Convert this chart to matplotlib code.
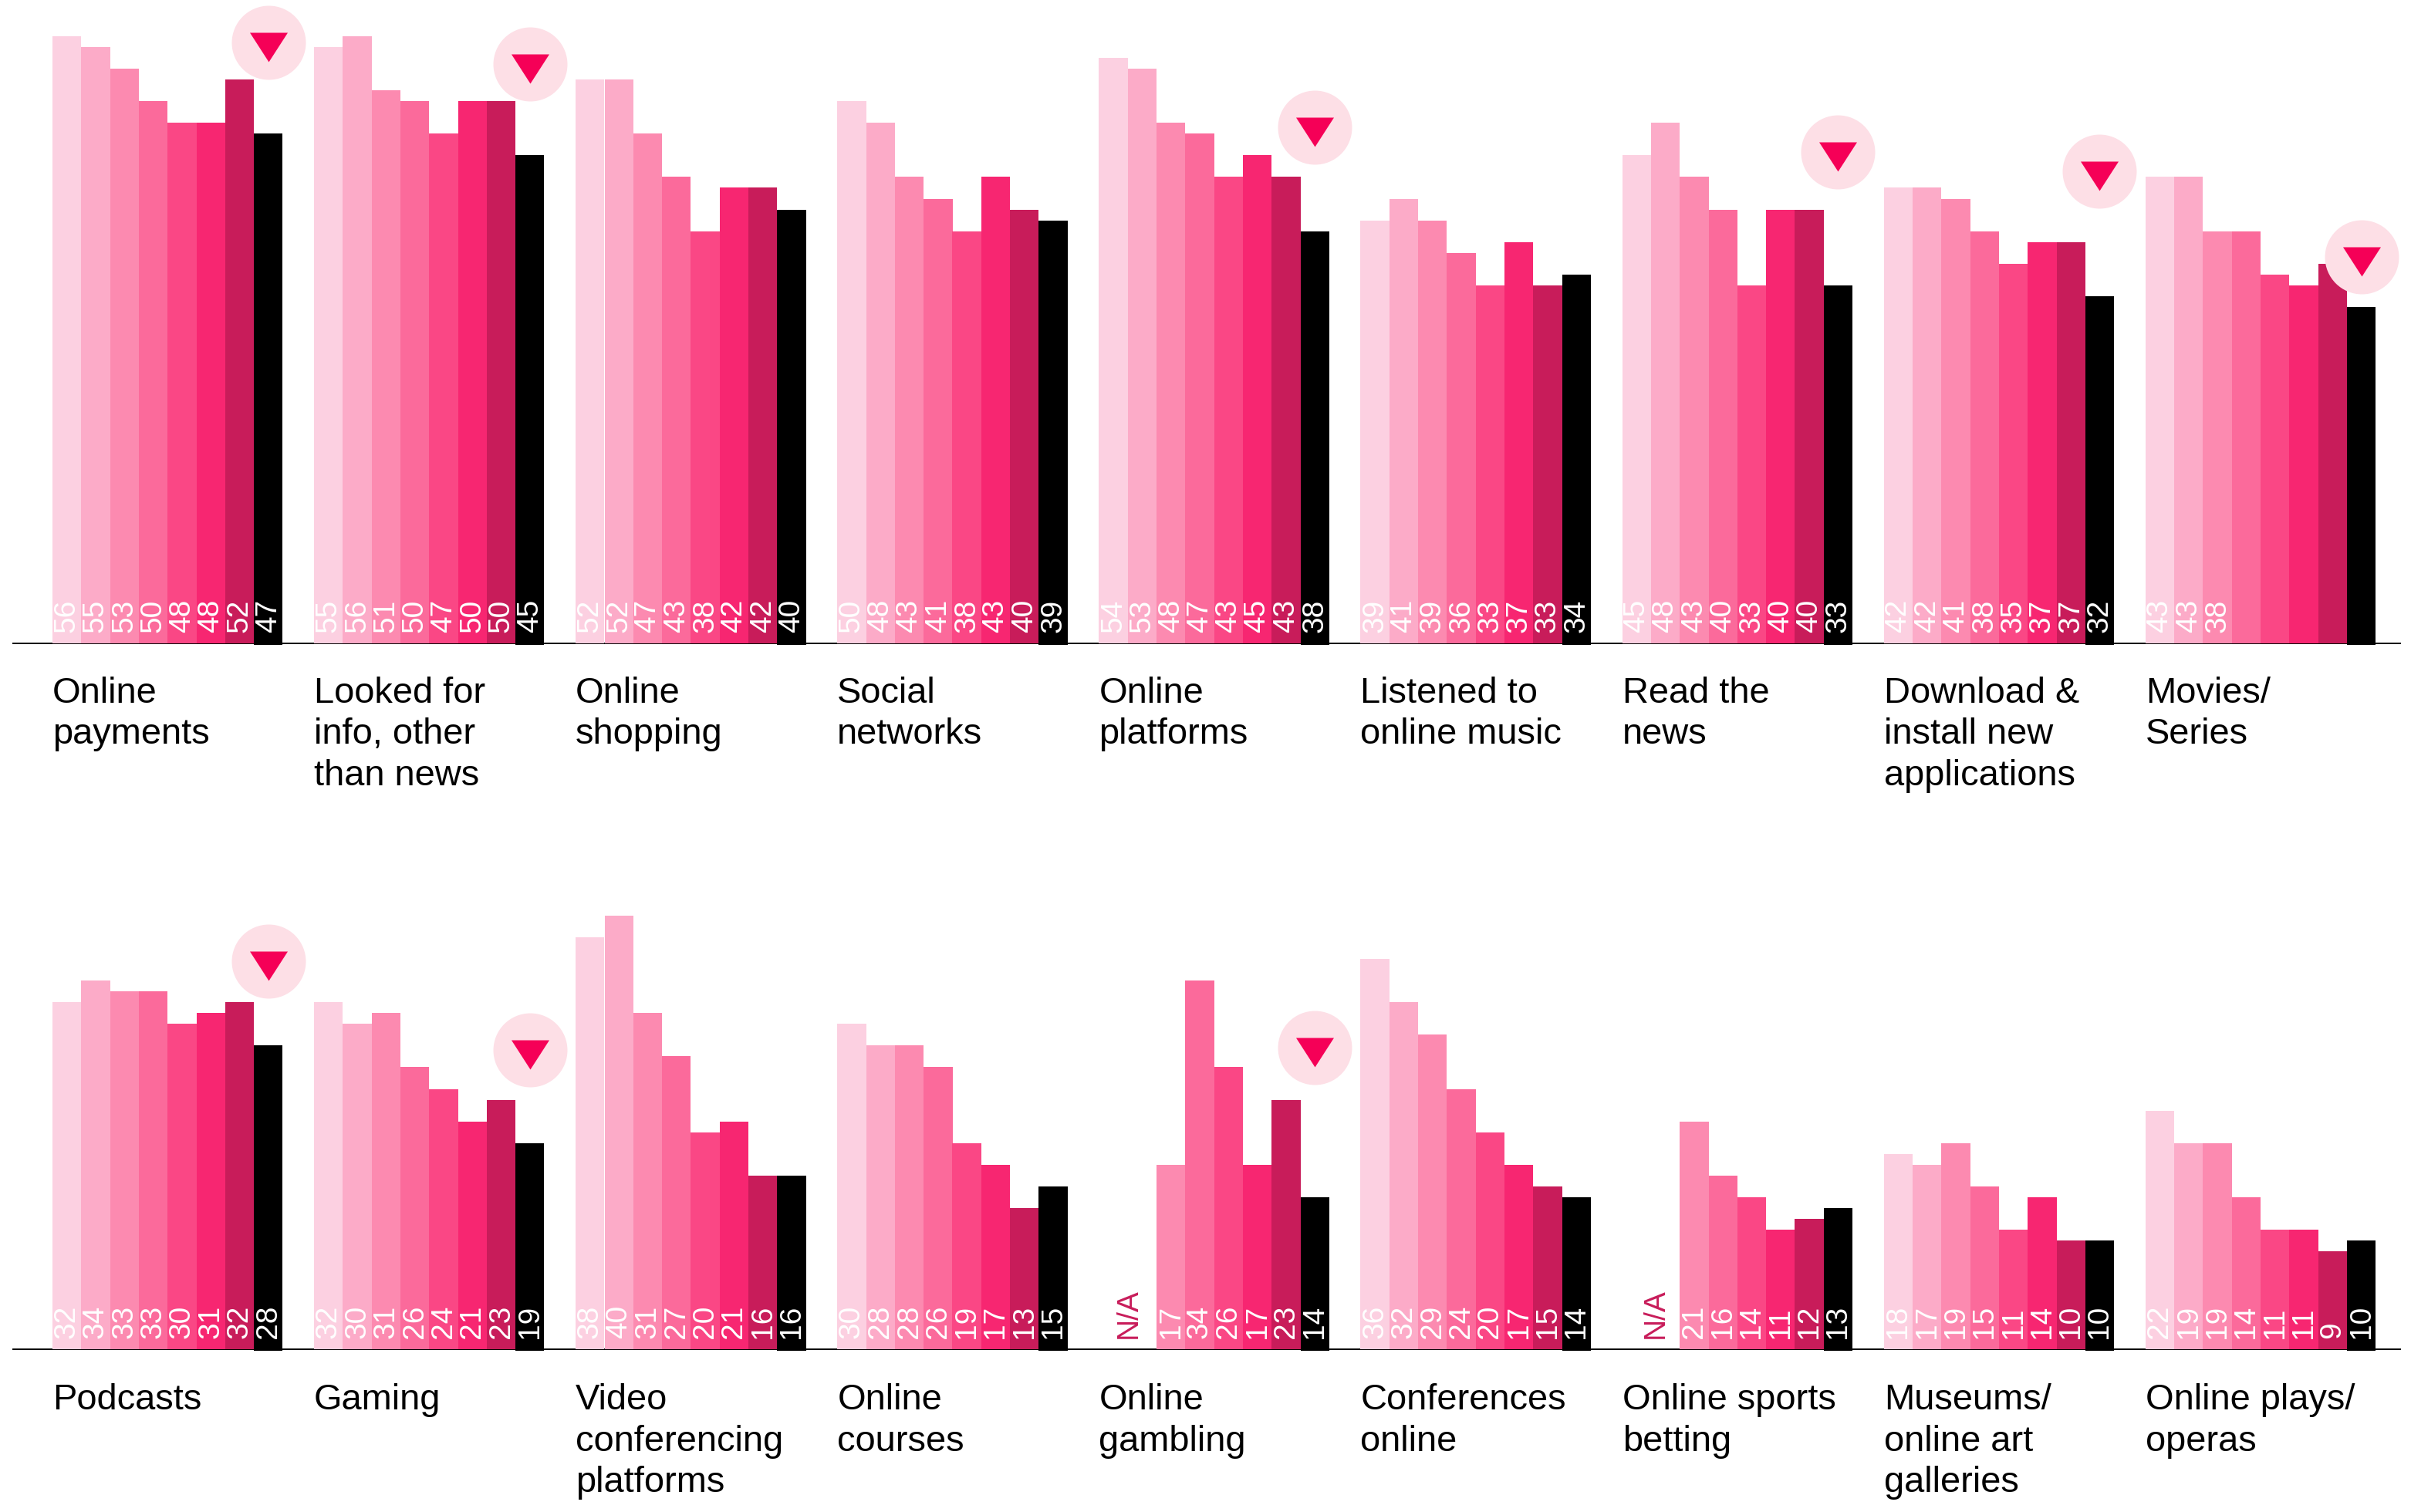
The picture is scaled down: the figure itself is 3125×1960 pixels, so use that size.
"""
Grouped bars per online activity, two rows of nine and nine categories.
"""

import matplotlib
matplotlib.use("Agg")
import matplotlib.pyplot as plt

W, H, DPI = 3125, 1960, 100

# ---------------------------------------------------------------
# Data
# ---------------------------------------------------------------
top_names = [
    "Online\npayments", "Looked for\ninfo, other\nthan news", "Online\nshopping",
    "Social\nnetworks", "Online\nplatforms", "Listened to\nonline music",
    "Read the\nnews", "Download &\ninstall new\napplications", "Movies/\nSeries",
]
top_values = [
    [56, 55, 53, 50, 48, 48, 52, 47],
    [55, 56, 51, 50, 47, 50, 50, 45],
    [52, 52, 47, 43, 38, 42, 42, 40],
    [50, 48, 43, 41, 38, 43, 40, 39],
    [54, 53, 48, 47, 43, 45, 43, 38],
    [39, 41, 39, 36, 33, 37, 33, 34],
    [45, 48, 43, 40, 33, 40, 40, 33],
    [42, 42, 41, 38, 35, 37, 37, 32],
    [43, 43, 38, 38, 34, 33, 35, 31],
]
top_shown = [8, 8, 8, 8, 8, 8, 8, 8, 3]
# group index -> height of the drop marker, on the value scale
top_drops = {0: 55.4, 1: 53.4, 4: 47.6, 6: 45.3, 7: 43.5, 8: 35.6}

bottom_names = [
    "Podcasts", "Gaming", "Video\nconferencing\nplatforms",
    "Online\ncourses", "Online\ngambling", "Conferences\nonline",
    "Online sports\nbetting", "Museums/\nonline art\ngalleries", "Online plays/\noperas",
]
bottom_values = [
    [32, 34, 33, 33, 30, 31, 32, 28],
    [32, 30, 31, 26, 24, 21, 23, 19],
    [38, 40, 31, 27, 20, 21, 16, 16],
    [30, 28, 28, 26, 19, 17, 13, 15],
    [None, None, 17, 34, 26, 17, 23, 14],
    [36, 32, 29, 24, 20, 17, 15, 14],
    [None, None, 21, 16, 14, 11, 12, 13],
    [18, 17, 19, 15, 11, 14, 10, 10],
    [22, 19, 19, 14, 11, 11, 9, 10],
]
bottom_shown = [8, 8, 8, 8, 8, 8, 8, 8, 8]
bottom_drops = {0: 35.8, 1: 27.6, 4: 27.8}

colors = ["#FCD0E1", "#FCABC8", "#FC8AB0", "#FB6A9B", "#FA4785", "#F72671", "#C81C5A", "#000000"]

# ---------------------------------------------------------------
# Layout, in pixels of the final image
# ---------------------------------------------------------------
LEFT = 68
BAR_PX = 37.3
PITCH_PX = 339.1
UNIT_PX = 14.06
PITCH = PITCH_PX / BAR_PX
NA_SHIFT = {4: 1.02, 6: 1.16}

FONT = "Liberation Sans"

fig = plt.figure(figsize=(W / DPI, H / DPI), dpi=DPI, facecolor="white")


def draw_row(base_px, top_px, label_gap, names, values, shown, drops):
    ax = fig.add_axes([0, 1 - base_px / H, 1, (base_px - top_px) / H])
    ax.set_xlim(-LEFT / BAR_PX, (W - LEFT) / BAR_PX)
    ax.set_ylim(0, (base_px - top_px) / UNIT_PX)
    ax.axis("off")

    for g, (name, vals, n) in enumerate(zip(names, values, shown)):
        x0 = g * PITCH
        for i, v in enumerate(vals):
            if v is None:
                continue
            x = x0 + i + 0.5
            # the black bar sits a hair below the axis line
            foot = 2 / UNIT_PX if i == 7 else 0
            ax.bar(x, v + foot, bottom=-foot, width=1, color=colors[i], linewidth=0,
                   antialiased=False, clip_on=False, zorder=2)
            if i < n:
                ax.text(x, 1.0, str(v), color="white", rotation=90, ha="center", va="bottom",
                        fontsize=28, family=FONT, zorder=3)

        if vals[0] is None:
            ax.text(x0 + NA_SHIFT[g], 1.0, "N/A", color=colors[6], rotation=90, ha="center",
                    va="bottom", fontsize=28, family=FONT, zorder=3)

        for k, line in enumerate(name.split("\n")):
            ax.annotate(line, (x0, 0), xytext=(0, -(label_gap + 53.5 * k) * 72 / DPI),
                        textcoords="offset points", ha="left", va="baseline", family=FONT,
                        fontsize=33.8, color="black", annotation_clip=False)

        # marker over the last bar of the flagged groups
        if g in drops:
            xm = x0 + 7.5
            ax.plot([xm], [drops[g]], marker="o", ms=96 * 72 / DPI, mfc="#FDDFE6", mec="none",
                    clip_on=False, zorder=4)
            ax.plot([xm], [drops[g]], marker=[(-24.5, 13), (24.5, 13), (0, -25)], ms=50 * 72 / DPI,
                    mfc="#F50057", mec="none", clip_on=False, zorder=5)

    ax.axhline(0, xmin=17 / W, xmax=3111 / W, color="black", lw=1.4, clip_on=False, zorder=1)


draw_row(834, 0, 77, top_names, top_values, top_shown, top_drops)
draw_row(1749, 960, 78, bottom_names, bottom_values, bottom_shown, bottom_drops)

fig.savefig("out.png", dpi=DPI, facecolor="white")
